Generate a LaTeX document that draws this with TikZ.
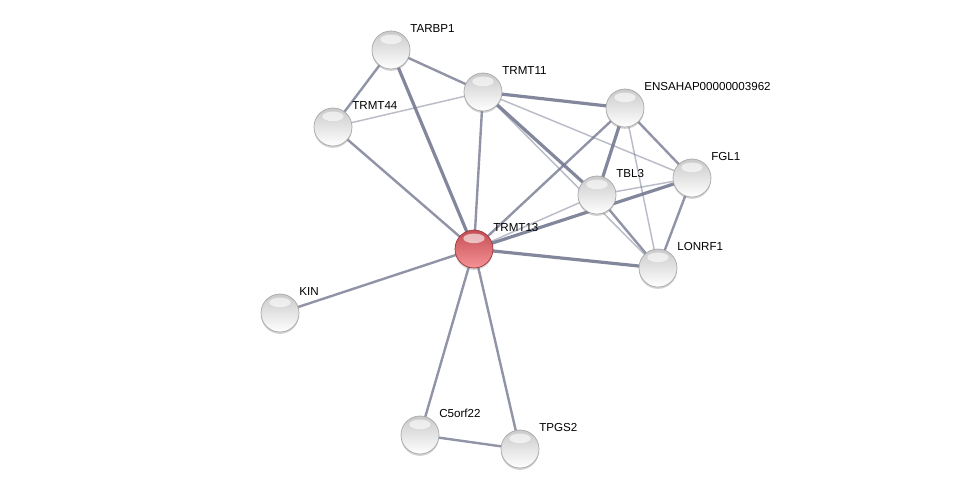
\documentclass[tikz,border=0pt]{standalone}
\usepackage{fontspec}
\setmainfont{Liberation Sans}
\usetikzlibrary{backgrounds, shadows}

\definecolor{edgec}{RGB}{118,122,146}
\definecolor{redtop}{RGB}{196,78,84}
\definecolor{redbot}{RGB}{246,146,150}
\definecolor{redrim}{RGB}{150,52,58}

\begin{document}
\begin{tikzpicture}[
    x=0.75pt, y=-0.75pt,
    prot/.style={circle, minimum size=28.5pt, inner sep=0pt, outer sep=0pt,
                 top color=gray!42, bottom color=white, draw=gray!70, line width=0.5pt,
                 path picture={\fill[white, opacity=.6] (path picture bounding box.center)
                   ++(0,8pt) ellipse (8pt and 3.6pt);},
                 drop shadow={shadow xshift=0pt, shadow yshift=-1.4pt, opacity=.35}},
    query/.style={prot, top color=redtop, bottom color=redbot, draw=redrim},
    lbl/.style={font=\fontsize{8.7}{10}\selectfont, inner sep=0pt,
                anchor=base west, xshift=4.2pt, yshift=3.4pt},
    weak/.style={draw=edgec, opacity=.5, line width=1.1pt},
    mid/.style={draw=edgec, opacity=.8, line width=1.8pt},
    strong/.style={draw=edgec, opacity=.9, line width=2.4pt},
  ]
  \useasboundingbox (0,0) rectangle (976,494);

  % ---- proteins
  \node[prot, label={[lbl]45:TARBP1}] (tarbp1) at (391,50) {};
  \node[prot, label={[lbl]45:TRMT11}] (trmt11) at (483,92) {};
  \node[prot, label={[lbl]45:TRMT44}] (trmt44) at (333,127) {};
  \node[prot, label={[lbl]45:ENSAHAP00000003962}] (ensahap) at (625,108) {};
  \node[prot, label={[lbl]45:FGL1}] (fgl1) at (692,178) {};
  \node[prot, label={[lbl]45:TBL3}] (tbl3) at (597,195) {};
  \node[query, label={[lbl]45:TRMT13}] (trmt13) at (474,249) {};
  \node[prot, label={[lbl]45:LONRF1}] (lonrf1) at (658,268) {};
  \node[prot, label={[lbl]45:KIN}] (kin) at (280,313) {};
  \node[prot, label={[lbl]45:C5orf22}] (c5orf22) at (420,435) {};
  \node[prot, label={[lbl]45:TPGS2}] (tpgs2) at (520,449) {};

  % ---- interactions
  \begin{scope}[on background layer]
    \fill[white] (0,0) rectangle (976,494);
    \draw[mid] (tarbp1.center) -- (trmt44.center);
    \draw[mid] (tarbp1.center) -- (trmt11.center);
    \draw[strong] (tarbp1.center) -- (trmt13.center);
    \draw[weak] (trmt44.center) -- (trmt11.center);
    \draw[mid] (trmt44.center) -- (trmt13.center);
    \draw[mid] (trmt11.center) -- (trmt13.center);
    \draw[strong] (trmt11.center) -- (ensahap.center);
    \draw[strong] (trmt11.center) -- (tbl3.center);
    \draw[weak] (trmt11.center) -- (lonrf1.center);
    \draw[weak] (trmt11.center) -- (fgl1.center);
    \draw[mid] (ensahap.center) -- (trmt13.center);
    \draw[strong] (ensahap.center) -- (tbl3.center);
    \draw[mid] (ensahap.center) -- (fgl1.center);
    \draw[weak] (ensahap.center) -- (lonrf1.center);
    \draw[weak] (tbl3.center) -- (fgl1.center);
    \draw[strong] (trmt13.center) -- (fgl1.center);
    \draw[weak] (trmt13.center) -- (tbl3.center);
    \draw[mid] (tbl3.center) -- (lonrf1.center);
    \draw[mid] (fgl1.center) -- (lonrf1.center);
    \draw[strong] (trmt13.center) -- (lonrf1.center);
    \draw[mid] (kin.center) -- (trmt13.center);
    \draw[mid] (c5orf22.center) -- (trmt13.center);
    \draw[mid] (tpgs2.center) -- (trmt13.center);
    \draw[mid] (c5orf22.center) -- (tpgs2.center);
  \end{scope}
\end{tikzpicture}
\end{document}
